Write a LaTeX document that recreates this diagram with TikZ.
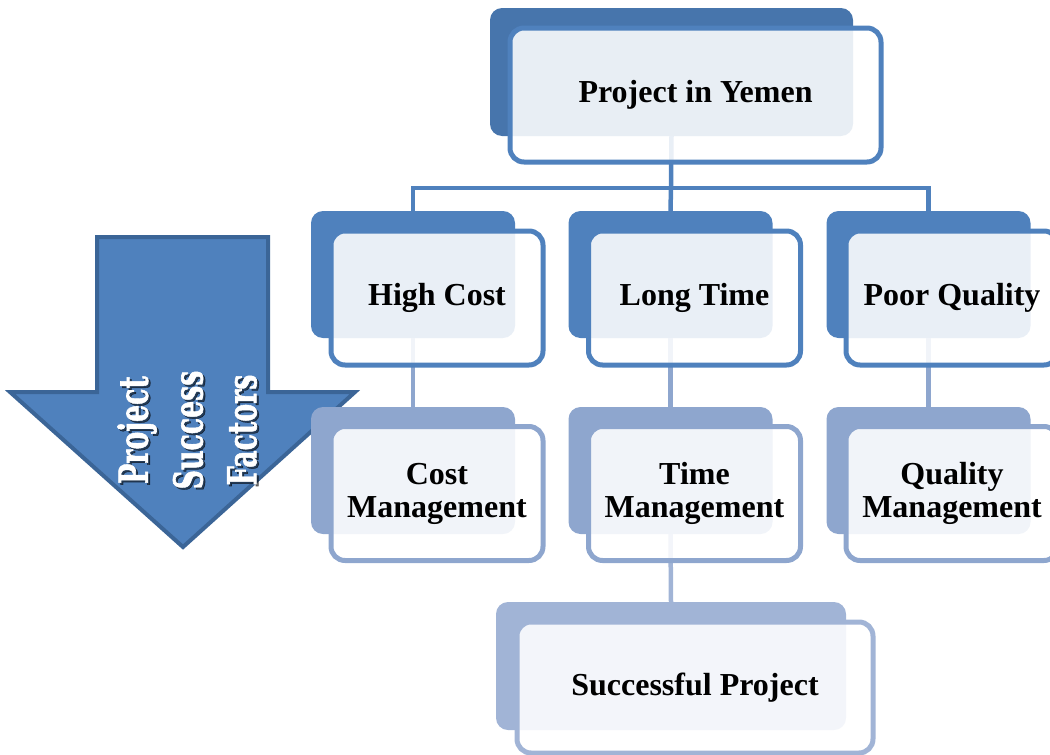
\documentclass[tikz,border=0pt]{standalone}
\usepackage{fontspec}
\usepackage{graphicx}
\setmainfont{Liberation Serif}
\newfontfamily\slabfont{DejaVu Serif}[UprightFont=* Bold, FakeBold=1.6]
\definecolor{topblue}{HTML}{4775AC}
\definecolor{midblue}{HTML}{4F81BD}
\definecolor{lowblue}{HTML}{8EA6CE}
\definecolor{endblue}{HTML}{A1B4D6}
\definecolor{arrowedge}{HTML}{3B6597}

\begin{document}
\begin{tikzpicture}[x=1pt, y=-1pt,
  back/.style={rounded corners=12pt, inner sep=0pt, minimum width=204pt, minimum height=127pt},
  front/.style={draw, line width=5pt, fill=white, fill opacity=0.88, text opacity=1, rounded corners=14pt,
    inner sep=0pt, minimum width=212pt, minimum height=134pt, align=center,
    font=\bfseries\fontsize{32}{33}\selectfont},
  link/.style={line width=4.5pt},
  word/.style={rotate=90, inner sep=0pt, text=white, font=\slabfont\fontsize{40}{40}\selectfont},
  wordshade/.style={word, text=black, text opacity=0.55}]
\useasboundingbox (0,0) rectangle (1050,755);

% big arrow on the left
\draw[line width=4pt, draw=arrowedge, fill=midblue, line join=miter]
  (97,237) -- (268,237) -- (268,392) -- (355,392) -- (183,547) -- (10,392) -- (97,392) -- cycle;
\foreach \w/\x in {Project/137,Success/188,Factors/242}
{
\node[wordshade] (\w shade) at (\x+2,432) {\scalebox{0.67}[1]{\w}};
\node[word] (\w) at (\x,430) {\scalebox{0.67}[1]{\w}};
}

% back plates
\node[back, fill=topblue, minimum width=363pt, minimum height=128pt] (yemenbk) at (671.5,72) {};
\foreach \n/\x in {cost/413,time/670.5,quality/928.5}
{
\node[back, fill=midblue] (\n bk) at (\x,274.5) {};
\node[back, fill=lowblue] (\n mbk) at (\x,470.5) {};
}
\node[back, fill=endblue, minimum width=350pt, minimum height=128pt] (successbk) at (671,666) {};

% connectors
\coordinate (bus) at (671,188);
\draw[link, midblue] (yemenbk.south) -- (bus);
\draw[link, midblue] (costbk.north) |- (bus) -| (qualitybk.north);
\draw[link, midblue] (bus) -- (timebk.north);
\foreach \n in {cost,time,quality}
\draw[link, lowblue] (\n bk.south) -- (\n mbk.north);
\draw[link, endblue] (timembk.south) -- (successbk.north);

% front boxes
\node[front, draw=midblue, minimum width=371pt] (yemen) at (695.5,95) {Project in Yemen};
\foreach \n/\x/\t in {cost/437/High Cost,time/694.5/Long Time,quality/952/Poor Quality}
\node[front, draw=midblue] (\n) at (\x,298) {\t};
\foreach \n/\x/\t in {cost/437/{Cost\\Management},time/694.5/{Time\\Management},quality/952/{Quality\\Management}}
\node[front, draw=lowblue] (\n m) at (\x,493.5) {\t};
\node[front, draw=endblue, minimum width=356pt, minimum height=131pt] (success) at (695,687.5) {Successful Project};
\end{tikzpicture}
\end{document}
